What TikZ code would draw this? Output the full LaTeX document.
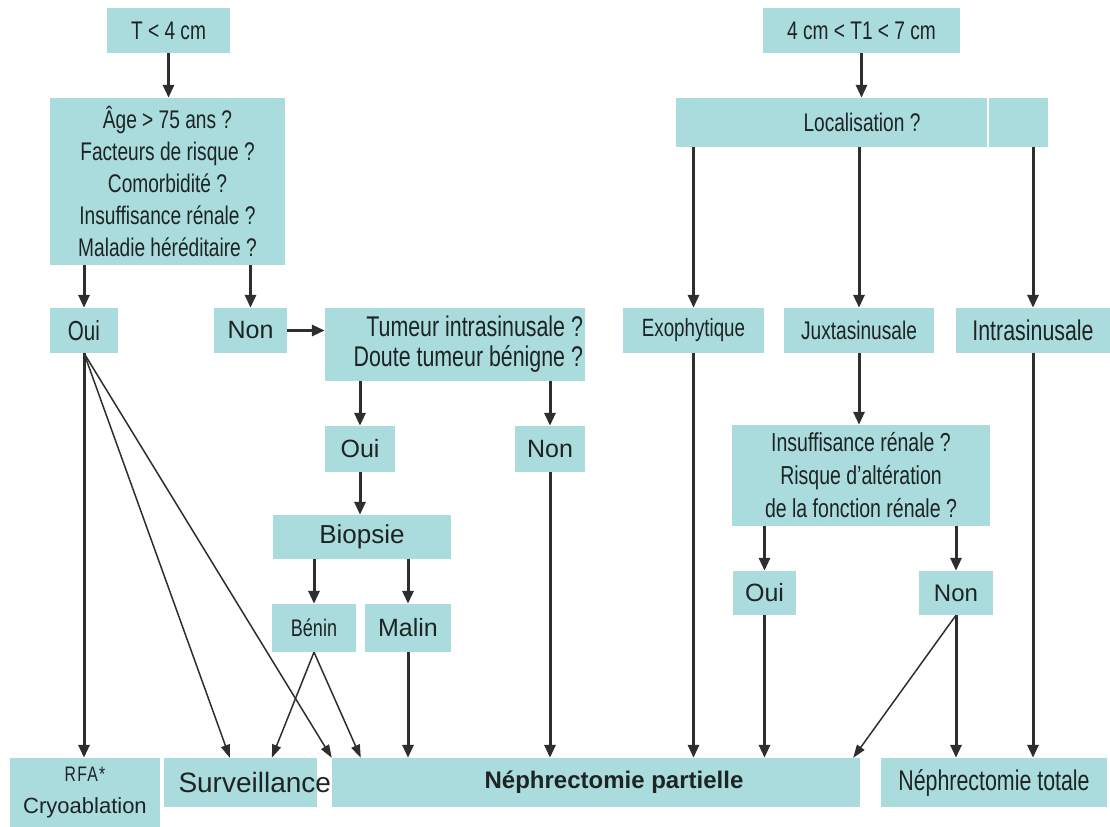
\documentclass[tikz,border=0pt]{standalone}
\usepackage{fontspec}
\setmainfont{Liberation Sans}
\newfontfamily\narrowsf{Liberation Sans}[FakeStretch=0.75]
\usetikzlibrary{arrows.meta}
\definecolor{boxteal}{HTML}{AADBDD}
\definecolor{arrowgray}{HTML}{2E2E2E}
\definecolor{textdark}{HTML}{1E2424}
\tikzset{box/.style={fill=boxteal,inner sep=0pt,align=center,text=textdark},
  boxsize/.style 2 args={minimum width=#1bp,minimum height=#2bp},
  nfont/.style 2 args={font=\narrowsf\fontsize{#1bp}{#2bp}\selectfont},
  rfont/.style 2 args={font=\fontsize{#1bp}{#2bp}\selectfont},
  mainarrow/.style={-{Triangle[length=13bp,width=11bp]},draw=arrowgray,line width=3bp},
  thinarrow/.style={-{Triangle[length=13bp,width=9bp]},draw=arrowgray,line width=1.5bp}}

\begin{document}
\begin{tikzpicture}[x=1bp,y=-1bp]
\path[use as bounding box] (0,0) rectangle (1110,827);
% left branch
\node[box,boxsize={123}{45},nfont={25.5}{30}] (tsmall) at (168.5,30.5) {T < 4 cm};
\node[box,boxsize={235}{167},nfont={25.5}{32}] (age) at (167.5,181.5) {Âge > 75 ans ?\\Facteurs de risque ?\\Comorbidité ?\\Insuffisance rénale ?\\Maladie héréditaire ?};
\node[box,boxsize={68}{45},nfont={27.5}{30}] (ouiL) at (84,330.5) {Oui};
\node[box,boxsize={73}{45},rfont={25}{30}] (nonL) at (250.5,330.5) {Non};
\node[box,boxsize={260}{73},nfont={28.5}{30},text width=256bp,align=flush right] (tumeur) at (455,344.5) {Tumeur intrasinusale ?\\Doute tumeur bénigne ?};
\node[box,boxsize={70}{46},rfont={25}{30}] (ouiM) at (360,449) {Oui};
\node[box,boxsize={70}{46},rfont={25}{30}] (nonM) at (550,449) {Non};
\node[box,boxsize={178}{44},rfont={26}{30}] (biopsie) at (362,537) {Biopsie};
\node[box,boxsize={84}{48},nfont={24}{30}] (benin) at (314,628) {Bénin};
\node[box,boxsize={86}{48},rfont={25}{30}] (malin) at (408,628) {Malin};
% right branch
\node[box,boxsize={197}{45},nfont={25.5}{30}] (tlarge) at (861.5,30.5) {4 cm < T1 < 7 cm};
\node[box,boxsize={372}{49},nfont={25.5}{30}] (loc) at (862,122.5) {Localisation ?};
\draw[white,line width=1.5bp] ([xshift=126bp]loc.north) -- ([xshift=126bp]loc.south);
\node[box,boxsize={141}{45},nfont={25}{30}] (exo) at (693.5,330.5) {Exophytique};
\node[box,boxsize={150}{45},nfont={25.5}{30}] (juxta) at (859,330.5) {Juxtasinusale};
\node[box,boxsize={154}{45},nfont={28.5}{30}] (intra) at (1033,330.5) {Intrasinusale};
\node[box,boxsize={258}{101},nfont={26}{33}] (insuf) at (861,475.5) {Insuffisance rénale ?\\Risque d’altération\\de la fonction rénale ?};
\node[box,boxsize={63}{44},rfont={25}{30}] (ouiR) at (764.5,593) {Oui};
\node[box,boxsize={74}{44},rfont={24}{30}] (nonR) at (956,593) {Non};
% treatments
\node[box,boxsize={150}{69},rfont={22}{32}] (rfa) at (85,792.5) {{\narrowsf\fontsize{21bp}{32bp}\selectfont\addfontfeature{LetterSpace=6}RFA*}\\Cryoablation};
\node[box,boxsize={528}{49},font=\bfseries\fontsize{24bp}{30bp}\selectfont] (nephp) at (596,782.5) {\hspace*{36bp}Néphrectomie partielle};
\node[box,boxsize={153}{49},rfont={28}{30}] (surv) at (240.5,782.5) {\makebox[124bp][l]{Surveillance}};
\node[box,boxsize={226}{49},nfont={28.5}{30}] (nepht) at (994,782.5) {Néphrectomie totale};
% arrows
\draw[mainarrow] (tsmall.south) -- (tsmall.south |- age.north);
\draw[mainarrow] (age.south -| ouiL) -- (ouiL.north);
\draw[mainarrow] (age.south -| nonL) -- (nonL.north);
\draw[mainarrow] (nonL.east) -- (nonL.east -| tumeur.west);
\draw[mainarrow] (tumeur.south -| ouiM) -- (ouiM.north);
\draw[mainarrow] (tumeur.south -| nonM) -- (nonM.north);
\draw[mainarrow] (ouiM.south) -- (ouiM.south |- biopsie.north);
\draw[mainarrow] (biopsie.south -| benin) -- (benin.north);
\draw[mainarrow] (biopsie.south -| malin) -- (malin.north);
\draw[mainarrow] (ouiL.south) -- (ouiL.south |- rfa.north);
\draw[thinarrow] (ouiL.south) -- ([xshift=66bp]surv.north west);
\draw[thinarrow] (ouiL.south) -- (nephp.north west);
\draw[thinarrow] (benin.south) -- ([xshift=108bp]surv.north west);
\draw[thinarrow] (benin.south) -- ([xshift=29bp]nephp.north west);
\foreach \n in {malin,nonM} \draw[mainarrow] (\n.south) -- (\n.south |- nephp.north);
\draw[mainarrow] (tlarge.south) -- (tlarge.south |- loc.north);
\foreach \n in {exo,juxta,intra} \draw[mainarrow] (loc.south -| \n) -- (\n.north);
\draw[mainarrow] (juxta.south) -- (juxta.south |- insuf.north);
\draw[mainarrow] (insuf.south -| ouiR) -- (ouiR.north);
\draw[mainarrow] (insuf.south -| nonR) -- (nonR.north);
\foreach \n in {exo,ouiR} \draw[mainarrow] (\n.south) -- (\n.south |- nephp.north);
\draw[thinarrow] (nonR.south) -- ([xshift=-7bp]nephp.north east);
\foreach \n in {nonR,intra} \draw[mainarrow] (\n.south) -- (\n.south |- nepht.north);
\end{tikzpicture}
\end{document}
